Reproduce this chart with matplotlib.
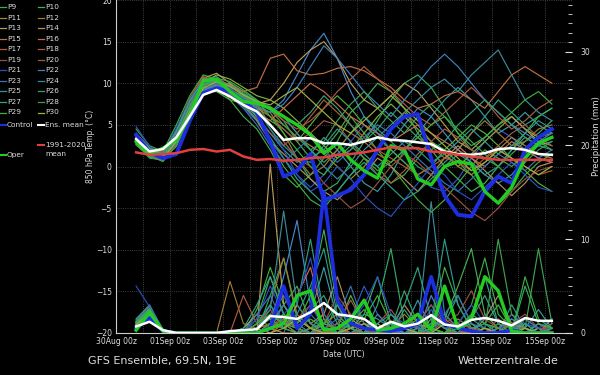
import numpy as np
import pandas as pd
import matplotlib
matplotlib.use("Agg")
import matplotlib.pyplot as plt
from matplotlib.lines import Line2D
from matplotlib.ticker import MultipleLocator
import matplotlib.dates as mdates

# 12-hourly steps, run starts 30Aug 18z
times = pd.date_range("2024-08-30 18:00", periods=32, freq="12h")
tick_days = pd.date_range("2024-08-30", "2024-09-15", freq="2D")
grid_days = pd.date_range("2024-08-30", "2024-09-16", freq="D")
tick_labels = ["30Aug 00z", "01Sep 00z", "03Sep 00z", "05Sep 00z", "07Sep 00z",
               "09Sep 00z", "11Sep 00z", "13Sep 00z", "15Sep 00z"]

# 850 hPa temperature (C)
ens_mean = [3.3, 1.8, 2.1, 3.5, 6.0, 8.6, 9.2, 8.4, 7.4, 6.6, 5.0, 3.2, 3.4, 3.4, 2.8, 2.8,
            2.6, 3.0, 3.5, 3.2, 3.1, 2.9, 2.7, 1.8, 1.5, 1.4, 1.6, 2.1, 2.2, 2.0, 1.5, 1.4]
clim_mean = [1.7, 1.4, 1.5, 1.6, 2.0, 2.1, 1.8, 2.0, 1.2, 0.8, 0.9, 0.7, 0.8, 1.0, 1.1, 1.4,
             1.5, 1.7, 2.0, 2.3, 2.2, 2.2, 1.8, 1.7, 1.4, 1.2, 1.0, 0.8, 0.8, 0.8, 0.8, 0.8]
control = [3.8, 1.7, 1.0, 1.5, 5.5, 8.8, 9.4, 9.0, 7.8, 6.5, 3.0, -1.2, -0.5, 1.5, -4.0, -3.5,
           -2.8, -1.0, 2.0, 4.5, 6.0, 6.3, 1.0, -3.5, -5.8, -6.0, -3.0, -1.2, -2.0, 2.0, 3.5, 4.5]
oper = [3.0, 1.4, 2.2, 3.2, 6.0, 10.3, 10.5, 9.0, 7.8, 7.6, 7.0, 6.0, 5.0, 3.8, 1.6, 2.8,
        0.8, -0.5, -1.4, 2.5, 2.0, -1.5, -2.2, 0.0, 0.6, 0.3, -3.0, -4.4, -2.5, 1.0, 2.8, 3.5]

members = [
    [3.5, 1.8, 1.0, 3.0, 6.5, 9.0, 9.5, 8.5, 7.0, 5.5, 3.0, 1.0, -1.0, -2.5, -1.0, 1.5, 3.0, 5.0, 4.0, 2.0, 0.5, -1.0, -2.5, -3.0, -1.5, 1.0, 3.0, 4.5, 3.5, 2.0, 1.0, 0.5],
    [3.0, 1.5, 1.2, 3.5, 7.0, 9.8, 10.2, 9.0, 8.0, 7.0, 6.5, 8.0, 11.0, 14.0, 16.0, 13.0, 9.0, 6.0, 4.0, 3.0, 5.0, 7.0, 6.0, 4.0, 2.0, 0.5, -1.0, -2.0, -1.0, 1.0, 2.5, 3.0],
    [4.0, 2.2, 1.5, 4.5, 8.0, 10.5, 10.8, 9.5, 7.5, 6.0, 4.0, 2.0, 0.5, 1.5, 3.5, 2.0, 0.0, -2.0, -3.0, -1.0, 2.0, 4.0, 6.0, 8.0, 9.5, 8.0, 6.0, 4.0, 5.0, 6.5, 5.0, 4.0],
    [2.8, 1.0, 0.8, 2.5, 6.0, 8.8, 9.8, 10.0, 9.0, 8.0, 7.0, 6.0, 4.0, 2.0, 0.5, 2.0, 4.0, 6.0, 4.5, 3.0, 1.5, 0.0, -1.0, 0.5, 2.0, 4.0, 6.0, 8.0, 6.5, 5.0, 6.0, 7.0],
    [3.2, 1.6, 1.4, 3.0, 6.8, 9.5, 10.0, 9.2, 8.5, 7.5, 5.0, 3.0, 1.0, -1.5, -3.0, -2.0, 0.5, 3.0, 5.5, 8.0, 10.0, 11.0, 9.5, 7.0, 4.0, 2.0, 1.0, 0.0, 1.5, 3.0, 4.0, 5.5],
    [3.6, 2.0, 1.0, 4.0, 7.5, 10.2, 10.0, 8.0, 6.0, 4.5, 2.0, -1.0, -2.5, -1.0, 1.0, 3.0, 6.0, 4.0, 2.0, 0.0, -2.0, -4.0, -5.5, -4.0, -2.0, 0.0, 2.0, 1.0, 0.0, 1.5, 3.0, 2.0],
    [2.6, 1.2, 1.6, 2.8, 6.2, 9.0, 9.0, 8.0, 7.5, 6.5, 5.5, 4.5, 3.0, 5.0, 7.0, 8.5, 7.0, 5.0, 3.5, 2.0, 0.5, -1.0, 0.0, 2.0, 3.5, 5.0, 4.0, 2.5, 1.0, -0.5, -2.0, -3.0],
    [3.4, 1.4, 1.2, 3.8, 7.2, 10.0, 11.0, 10.5, 9.5, 8.5, 8.0, 7.0, 5.5, 4.0, 2.5, 1.0, 2.0, 4.0, 6.0, 7.5, 6.0, 4.5, 3.0, 1.5, 0.0, 1.5, 3.0, 4.5, 6.0, 4.5, 3.5, 4.0],
    [4.5, 2.5, 1.8, 5.0, 8.5, 11.0, 10.5, 9.0, 8.0, 6.0, 3.0, 0.0, -2.0, -4.0, -5.0, -3.0, -1.0, 1.0, 0.0, -2.0, -1.0, 1.0, 3.0, 2.0, 0.5, -1.0, -3.0, -4.5, -3.0, -1.0, 0.5, 1.5],
    [3.0, 1.3, 0.6, 2.6, 6.5, 9.6, 10.4, 9.8, 8.8, 7.8, 7.0, 5.5, 3.0, 1.0, 2.0, 4.0, 6.5, 8.0, 10.0, 9.0, 7.0, 4.0, 2.0, 0.0, -1.5, -3.0, -2.0, 0.0, 2.0, 4.0, 6.0, 7.0],
    [3.3, 1.7, 1.3, 3.4, 7.0, 9.4, 9.6, 8.8, 7.8, 7.0, 6.0, 5.0, 3.5, 2.5, 1.5, 0.0, -1.5, 0.0, 2.0, 4.5, 6.5, 5.0, 3.0, 1.5, 0.0, -1.0, 0.5, 2.0, 3.5, 2.5, 1.5, 1.0],
    [2.9, 1.1, 0.9, 2.4, 5.8, 8.6, 9.2, 8.6, 8.0, 7.2, 6.5, 4.0, 1.0, -1.0, 0.0, 2.0, 4.0, 3.0, 1.5, 0.5, 2.0, 3.5, 2.5, 1.0, 2.0, 4.0, 5.5, 4.0, 2.5, 3.0, 4.5, 5.0],
    [3.7, 2.1, 1.6, 4.2, 7.8, 10.6, 11.2, 10.0, 8.5, 7.5, 8.0, 10.0, 12.5, 14.0, 15.0, 13.0, 10.0, 8.0, 7.0, 8.5, 10.0, 9.0, 7.0, 5.0, 3.0, 2.0, 3.5, 5.0, 6.0, 4.5, 3.0, 2.5],
    [3.1, 1.5, 1.1, 3.2, 6.6, 9.2, 9.8, 9.0, 7.5, 5.5, 3.0, 1.5, 0.0, -1.5, -3.0, -4.0, -2.5, -1.0, 1.0, 0.0, -1.5, -3.0, -1.0, 1.0, 2.5, 1.0, -0.5, -2.0, -3.5, -2.0, 0.0, 0.5],
    [3.5, 1.9, 1.5, 3.6, 7.4, 10.0, 10.5, 9.8, 9.0, 9.5, 13.0, 13.5, 11.5, 11.0, 11.2, 11.8, 12.0, 11.5, 10.5, 9.5, 8.0, 7.0, 7.5, 8.5, 9.0, 8.0, 7.0, 9.0, 11.0, 12.0, 11.0, 10.0],
    [2.7, 1.3, 1.0, 2.9, 6.4, 9.0, 9.4, 8.4, 7.4, 6.4, 5.5, 7.0, 8.5, 10.0, 9.0, 7.5, 6.0, 5.0, 4.0, 3.0, 4.0, 5.0, 4.0, 3.0, 2.0, 1.0, 0.0, 1.5, 3.0, 2.0, 1.0, 0.5],
    [3.9, 2.3, 1.7, 4.4, 8.2, 10.8, 10.2, 8.8, 7.2, 5.8, 4.0, 2.5, 4.0, 6.0, 8.0, 6.5, 5.0, 3.5, 2.0, 1.0, 0.0, -1.0, 0.0, 1.0, 0.5, -0.5, 1.0, 2.0, 1.0, 0.0, -1.0, -0.5],
    [3.0, 1.6, 1.3, 3.3, 6.9, 9.7, 10.1, 9.6, 8.6, 7.6, 6.8, 5.5, 4.5, 5.5, 7.0, 9.0, 10.5, 12.0, 10.5, 9.0, 7.5, 6.0, 5.0, 6.5, 8.0, 9.5, 8.0, 6.0, 4.5, 5.5, 7.0, 8.0],
    [3.4, 1.8, 1.4, 3.7, 7.3, 9.9, 10.3, 9.4, 8.2, 7.0, 5.0, 3.0, 1.0, 0.0, -2.0, -3.5, -5.0, -4.0, -2.0, 0.0, 1.5, 0.5, -1.0, -2.5, -4.0, -5.5, -6.5, -5.0, -3.0, -1.5, -0.5, 0.0],
    [2.6, 1.2, 0.9, 2.7, 6.3, 9.1, 9.7, 9.2, 8.4, 7.4, 6.0, 4.5, 3.0, 4.0, 5.5, 5.0, 3.0, 1.0, -1.0, -2.0, -0.5, 1.5, 3.0, 4.5, 3.5, 2.0, 1.0, 2.5, 4.0, 5.0, 3.5, 2.5],
    [4.8, 2.4, 1.5, 4.6, 8.0, 10.4, 10.6, 9.4, 8.0, 6.8, 4.5, 2.0, -1.0, -3.0, -2.0, 0.0, -1.5, -3.5, -5.0, -6.0, -4.0, -2.0, 0.0, -1.0, -3.0, -4.0, -2.5, -1.0, 0.5, -1.0, -2.5, -3.0],
    [3.2, 1.6, 1.2, 3.1, 6.7, 9.3, 9.9, 9.3, 8.3, 7.3, 6.5, 7.5, 9.5, 12.0, 14.5, 13.0, 11.0, 9.0, 7.5, 6.0, 8.0, 10.0, 12.0, 13.5, 12.0, 10.0, 8.0, 6.5, 5.0, 4.0, 3.0, 4.0],
    [3.6, 2.0, 1.4, 3.9, 7.6, 10.1, 10.0, 8.6, 7.0, 5.0, 2.5, 0.5, 2.0, 3.5, 2.0, 0.5, 2.0, 3.5, 5.0, 4.0, 2.5, 1.0, -0.5, -2.0, -3.0, -1.5, 0.0, 1.5, 0.5, -0.5, 1.0, 2.0],
    [3.1, 1.4, 1.1, 3.0, 6.6, 9.2, 9.6, 9.0, 8.2, 7.6, 7.2, 6.0, 4.0, 2.0, 0.0, -1.5, 0.0, 2.0, 3.5, 5.0, 6.5, 8.0, 9.5, 10.5, 9.0, 11.0, 12.5, 14.0, 11.0, 8.0, 6.5, 5.5],
    [2.8, 1.2, 1.3, 2.8, 6.4, 9.0, 9.6, 9.1, 8.3, 7.0, 4.5, 2.5, 1.0, 0.5, 2.5, 4.5, 3.0, 1.5, 0.0, 1.5, 3.0, 2.0, 0.5, 1.5, 3.0, 4.5, 3.0, 1.5, 2.5, 4.0, 5.5, 4.5],
    [3.3, 1.7, 1.6, 3.5, 7.1, 9.7, 10.3, 9.7, 8.7, 7.9, 7.0, 6.0, 5.0, 6.5, 8.5, 7.0, 5.0, 3.0, 4.5, 6.5, 5.0, 3.5, 2.0, 3.0, 5.0, 6.5, 8.0, 6.5, 5.0, 3.5, 2.5, 3.5],
    [3.9, 2.2, 1.5, 4.3, 7.9, 10.3, 10.1, 8.9, 7.3, 5.6, 3.5, 1.0, -1.5, -3.0, -4.5, -3.0, -1.0, 0.5, -1.0, -2.5, -4.0, -3.0, -1.5, 0.0, 1.5, 0.5, -1.0, 0.0, 2.0, 3.5, 2.5, 2.0],
    [2.7, 1.1, 0.7, 2.5, 6.1, 8.9, 9.5, 9.1, 8.5, 7.7, 6.8, 5.0, 3.5, 2.0, 3.0, 5.5, 7.5, 9.0, 7.0, 5.5, 4.0, 6.0, 7.5, 6.0, 4.5, 3.0, 1.5, 0.0, -1.5, 0.5, 2.0, 3.0],
    [3.4, 1.8, 1.2, 3.6, 7.2, 9.8, 10.6, 10.2, 9.2, 8.0, 6.0, 4.0, 2.0, 0.0, -1.0, 1.0, 2.5, 1.0, -0.5, 0.5, 2.0, 3.5, 5.0, 6.0, 4.0, 2.5, 3.5, 5.0, 6.5, 8.0, 9.0, 7.5],
    [3.0, 1.5, 1.0, 3.0, 6.6, 9.4, 10.2, 9.6, 8.6, 7.8, 7.4, 8.5, 9.5, 8.0, 6.5, 5.0, 4.0, 5.5, 7.0, 8.5, 7.0, 5.5, 4.0, 2.5, 1.0, -0.5, 0.5, 2.0, 1.0, 0.0, -1.0, 0.0],
]

# precipitation (mm)
ens_mean_rain = [0.7, 1.2, 0.3, 0, 0, 0, 0, 0.2, 0.3, 0.4, 1.8, 1.7, 1.5, 2.2, 3.2, 2.0,
                 1.8, 1.5, 0.5, 1.2, 0.7, 1.0, 1.9, 0.9, 0.7, 1.4, 1.6, 1.3, 0.8, 1.6, 1.3, 1.3]
control_rain = [0.5, 1.6, 0.2, 0, 0, 0, 0, 0, 0, 0, 0.5, 5.0, 0.5, 2.0, 15.0, 3.5,
                1.0, 0.5, 0.3, 0.2, 0.5, 1.0, 6.0, 1.0, 0.5, 0.2, 0, 0, 0.3, 0, 0, 0]
oper_rain = [0.3, 2.2, 0.2, 0, 0, 0, 0, 0, 0, 0, 0.5, 1.0, 4.0, 4.5, 0.3, 0.5,
             1.5, 3.5, 0.3, 0.5, 1.0, 2.0, 0.3, 5.0, 0.5, 1.5, 6.0, 4.5, 0.2, 0, 0, 0]
members_rain = [
    [1.0, 2.0, 0.2, 0, 0, 0, 0, 0, 0, 0.5, 2.0, 4.0, 1.0, 3.0, 0.5, 0, 1.5, 5.0, 2.0, 0.5, 0, 1.0, 3.0, 0.5, 0, 0, 2.0, 0.5, 0, 1.0, 0.5, 0],
    [0.8, 2.5, 0.3, 0, 0, 0, 0, 0, 0, 0, 1.0, 6.0, 12.0, 3.0, 1.0, 0.5, 0, 0, 2.0, 0.5, 0, 0, 4.0, 1.0, 0, 0.5, 0, 0, 1.5, 0.5, 0, 0],
    [1.5, 3.0, 0.2, 0, 0, 0, 0, 0, 0, 1.0, 3.0, 1.0, 0, 2.0, 7.0, 1.5, 0.5, 0, 0, 1.0, 0.5, 3.5, 0.5, 0, 0, 2.0, 6.0, 1.0, 0, 0.5, 2.5, 0.5],
    [0.6, 1.8, 0.1, 0, 0, 0, 0, 0, 0.5, 2.0, 0.5, 0, 3.0, 10.0, 2.0, 0, 0, 1.0, 0.5, 0, 2.5, 0.5, 0, 1.0, 4.0, 1.0, 0, 0, 3.0, 0.5, 0, 1.0],
    [1.2, 2.6, 0.3, 0, 0, 0, 0, 0, 0, 0, 4.0, 8.0, 1.5, 0.5, 2.0, 0.5, 0, 0, 3.0, 9.0, 1.0, 0, 0.5, 0, 0, 1.5, 0.5, 0, 0, 5.0, 1.0, 0],
    [0.9, 2.2, 0.2, 0, 0, 0, 0, 0, 0, 1.5, 6.0, 2.0, 0.5, 0, 0, 3.0, 1.0, 0, 0, 2.0, 0.5, 0, 1.0, 7.0, 3.0, 0.5, 0, 1.0, 0, 0, 0.5, 0],
    [1.1, 2.4, 0.3, 0, 0, 0, 0, 0, 0, 0, 0.5, 1.5, 0.5, 0, 1.0, 0.5, 4.0, 1.0, 0, 0, 0.5, 2.0, 0.5, 0, 0, 0.5, 1.0, 3.0, 0.5, 0, 0, 0.5],
    [0.7, 1.9, 0.2, 0, 0, 0, 0, 0, 0, 0.5, 1.0, 0.5, 0, 0.5, 0, 0, 0.5, 1.5, 0, 0, 0.5, 0, 1.5, 0.5, 0, 0, 0.5, 0, 0, 1.5, 0.5, 0],
    [1.4, 2.9, 0.4, 0, 0, 0, 0, 0, 0, 2.5, 7.0, 3.0, 1.0, 4.0, 11.0, 3.0, 0.5, 1.5, 4.0, 1.0, 0.5, 0, 2.0, 0.5, 1.0, 3.0, 8.0, 2.0, 0.5, 0, 1.0, 0.5],
    [1.0, 2.3, 0.2, 0, 0, 0, 0, 0, 0, 0, 1.0, 3.0, 5.0, 1.0, 0, 0, 0.5, 2.0, 6.0, 1.0, 0, 0, 0.5, 1.5, 5.0, 9.0, 2.0, 0.5, 0, 0, 0.5, 0],
    [0.8, 2.0, 0.3, 0, 0, 0, 0, 0, 0, 0.5, 2.0, 1.0, 0, 0, 1.0, 2.0, 0.5, 0, 0.5, 0, 1.0, 0.5, 0, 0, 1.5, 0.5, 0, 0.5, 0, 1.0, 0, 0],
    [0.7, 1.8, 0.2, 0, 0, 0, 0, 5.5, 1.0, 0.5, 3.0, 8.0, 2.0, 0.5, 0, 0, 1.0, 0, 0, 0.5, 2.0, 0.5, 0, 0, 0, 0.5, 0, 0, 1.0, 0, 0, 0.5],
    [0.9, 2.1, 0.2, 0, 0, 0, 0, 0, 0, 0, 18.0, 3.0, 0.5, 0, 0, 0.5, 0, 0, 1.0, 0, 0, 0, 0.5, 0, 0, 0, 0.5, 0, 0, 0, 0.5, 0],
    [1.1, 2.5, 0.3, 0, 0, 0, 0, 0, 0.5, 2.0, 1.5, 0.5, 3.0, 1.0, 2.0, 6.0, 1.5, 0.5, 0, 0.5, 3.0, 1.0, 0.5, 2.0, 0.5, 0, 1.5, 4.0, 1.0, 0.5, 0, 1.5],
    [0.6, 1.6, 0.1, 0, 0, 0, 0, 0, 0, 0, 0.5, 0, 0, 0.5, 0, 0, 0, 0.5, 0, 0, 0, 0.5, 0, 0, 0.5, 0, 0, 0, 0, 0.5, 0, 0],
    [0.8, 1.9, 0.2, 0, 0, 0, 0, 0, 0, 0.5, 0, 1.0, 4.0, 7.0, 1.5, 0, 0.5, 0, 0, 1.0, 0, 0.5, 0, 0, 1.0, 0, 0, 0.5, 2.0, 0.5, 0, 0],
    [1.2, 2.7, 0.3, 0, 0, 0, 0, 0, 4.0, 1.0, 0.5, 2.0, 0.5, 0, 0.5, 1.0, 0, 0.5, 0, 0, 0.5, 0, 0, 1.5, 0.5, 0, 0.5, 0, 0, 0, 1.0, 0],
    [0.9, 2.0, 0.2, 0, 0, 0, 0, 0, 0, 0, 0.5, 1.5, 0.5, 0, 0, 0.5, 0, 0, 0.5, 0, 0.5, 1.0, 0, 0, 0, 0.5, 0, 0.5, 1.0, 0, 0, 0.5],
    [1.0, 2.2, 0.3, 0, 0, 0, 0, 0, 0, 1.0, 2.5, 0.5, 1.5, 3.0, 1.0, 4.0, 2.0, 0.5, 1.0, 2.5, 0.5, 1.0, 3.0, 1.0, 2.0, 4.5, 1.5, 0.5, 1.0, 2.0, 0.5, 0.5],
    [0.7, 1.7, 0.2, 0, 0, 0, 0, 0, 0, 0.5, 1.0, 0.5, 2.0, 0.5, 0, 1.0, 3.5, 1.0, 0, 0, 0.5, 2.0, 0.5, 0, 1.0, 0.5, 0, 1.5, 0.5, 0, 0, 1.0],
    [5.0, 2.8, 0.4, 0, 0, 0, 0, 0, 0, 1.5, 5.0, 2.0, 3.5, 8.0, 2.0, 0.5, 1.0, 3.0, 6.0, 2.0, 1.0, 0.5, 2.5, 0.5, 1.0, 3.0, 1.0, 0, 2.0, 1.0, 0.5, 1.5],
    [0.8, 2.1, 0.2, 0, 0, 0, 0, 0, 0, 0, 0.5, 3.0, 1.0, 0, 0.5, 0, 0, 1.0, 0.5, 0, 0, 0.5, 0, 0, 0.5, 0, 0, 0.5, 1.5, 0.5, 0, 0],
    [1.3, 2.9, 0.3, 0, 0, 0, 0, 0, 0, 2.0, 4.0, 1.0, 0.5, 2.0, 0.5, 1.5, 5.0, 1.0, 0.5, 0, 1.0, 0.5, 0, 2.0, 4.0, 1.0, 0.5, 0, 0.5, 1.5, 0.5, 0],
    [0.9, 2.2, 0.2, 0, 0, 0, 0, 0, 0, 0.5, 2.5, 13.0, 3.0, 1.0, 0.5, 0, 0.5, 0, 0, 1.0, 0, 0.5, 14.0, 2.0, 0.5, 0, 0, 0, 0.5, 0, 0, 0.5],
    [1.0, 2.4, 0.2, 0, 0, 0, 0, 0, 0, 1.0, 3.0, 0.5, 2.0, 5.0, 9.0, 2.0, 0.5, 0, 1.0, 2.0, 0.5, 0, 1.0, 10.0, 3.0, 0.5, 1.0, 0, 0.5, 1.0, 0, 0.5],
    [0.8, 2.0, 0.2, 0, 0, 0, 0, 0, 0, 0.5, 1.5, 0.5, 0, 0.5, 1.0, 3.0, 0.5, 0, 0, 0.5, 4.5, 1.0, 0, 0, 0.5, 1.0, 0, 0, 0.5, 0.5, 0, 0],
    [1.2, 2.6, 0.3, 0, 0, 0, 0, 0, 0.5, 3.0, 6.0, 2.0, 1.0, 2.5, 4.0, 1.0, 0.5, 2.0, 1.5, 0.5, 3.0, 7.0, 1.5, 0.5, 0, 1.5, 4.0, 1.0, 0.5, 0, 1.0, 0.5],
    [0.7, 1.8, 0.2, 0, 0, 0, 0, 0, 0, 0, 1.0, 2.0, 0.5, 0, 1.5, 0, 0.5, 0, 0, 1.0, 0.5, 0, 0.5, 0, 1.0, 0, 0.5, 10.0, 2.0, 0.5, 9.0, 1.0],
    [1.1, 2.5, 0.3, 0, 0, 0, 0, 0, 0, 1.0, 2.0, 1.0, 0.5, 1.5, 0.5, 0, 1.0, 2.5, 0.5, 0, 0.5, 1.5, 0.5, 0, 0.5, 2.0, 1.0, 0.5, 0, 6.0, 1.5, 0.5],
    [0.9, 2.1, 0.2, 0, 0, 0, 0, 0, 0, 0.5, 0, 0.5, 1.5, 0.5, 0, 0, 0.5, 1.0, 0, 0, 0.5, 0, 0, 1.0, 0.5, 0, 0.5, 0, 0, 0.5, 0, 0],
]

member_labels = ["P%d" % i for i in range(1, 31)]
member_colors = ["#3355cc", "#4488cc", "#3a9aa0", "#2aa080", "#33aa66", "#44aa44", "#50b040", "#80b040",
                 "#3cb043", "#44b050", "#9a8a3c", "#a07838", "#b89a5a", "#b09060", "#c07040", "#c86a50",
                 "#b05a3a", "#b05a40", "#9a5040", "#a05a48", "#2a50c0", "#4080c0", "#3a70b0", "#3a8a9a",
                 "#2a9a8a", "#3aa070", "#30a080", "#40a050", "#3ab040", "#a0b040"]
c_control = "#1c2ee0"
c_oper = "#22cc22"
c_mean = "white"
c_clim = "#e04040"
txt = "#dddddd"

W, H = 600, 375
fig = plt.figure(figsize=(6, 3.75), dpi=100, facecolor="black")
ax = fig.add_axes([116 / W, 42 / H, 456 / W, 333 / H])
ax.set_facecolor("black")
ax2 = ax.twinx()

# precipitation on the right axis
for vals, col in zip(members_rain, member_colors):
    ax2.plot(times, vals, color=col, lw=0.85)
ax2.plot(times, control_rain, color=c_control, lw=2.6)
ax2.plot(times, oper_rain, color=c_oper, lw=2.4)
ax2.plot(times, ens_mean_rain, color=c_mean, lw=1.8)

# temperature on the left axis
for vals, col in zip(members, member_colors):
    ax.plot(times, vals, color=col, lw=0.85)
ax.plot(times, control, color=c_control, lw=2.8)
ax.plot(times, oper, color=c_oper, lw=2.4)
ax.plot(times, ens_mean, color=c_mean, lw=1.8)
ax.plot(times, clim_mean, color=c_clim, lw=1.8)

ax.set_xlim(pd.Timestamp("2024-08-30"), pd.Timestamp("2024-09-15 12:45"))
ax.set_ylim(-20, 20)
ax2.set_ylim(0, 35.5)

ax.set_xticks(tick_days)
ax.set_xticklabels(tick_labels)
ax.set_xticks(grid_days, minor=True)
ax.yaxis.set_major_locator(MultipleLocator(5))
ax.grid(which="both", axis="x", color="#555555", ls=":", lw=0.6)
ax.grid(which="major", axis="y", color="#555555", ls=":", lw=0.6)
ax.tick_params(axis="both", which="both", length=0, colors=txt, labelsize=5.5, pad=3)

ax2.yaxis.set_major_locator(MultipleLocator(10))
ax2.yaxis.set_minor_locator(MultipleLocator(1))
ax2.tick_params(axis="y", which="major", direction="in", length=5, colors=txt, labelsize=5.5, pad=6)
ax2.tick_params(axis="y", which="minor", direction="in", length=3, colors=txt)

for sp in ["top", "right"]:
    ax.spines[sp].set_visible(False)
    ax2.spines[sp].set_visible(False)
ax2.spines["left"].set_visible(False)
ax2.spines["bottom"].set_visible(False)
ax.spines["left"].set_color("#cccccc")
ax.spines["bottom"].set_color("#cccccc")

ax.set_ylabel("850 hPa Temp. (\u00b0C)", color=txt, fontsize=5.5)
ax.yaxis.set_label_coords(-0.046, 0.56)
ax2.set_ylabel("Precipitation (mm)", color=txt, fontsize=6.2)
ax2.yaxis.set_label_coords(1.044, 0.59)
ax.set_xlabel("Date (UTC)", color=txt, fontsize=5.5, labelpad=3)

fig.text(88 / W, 1 - 361 / H, "GFS Ensemble, 69.5N, 19E", color=txt, fontsize=8, va="center")
fig.text(458 / W, 1 - 361 / H, "Wetterzentrale.de", color=txt, fontsize=8, va="center")


# legend drawn by hand (its top is cut off like in the original)
def leg_item(x, y, color, label, lw=0.9):
    yf = 1 - y / H
    fig.add_artist(Line2D([x / W, (x + 6) / W], [yf, yf], color=color, lw=lw,
                          transform=fig.transFigure))
    fig.text((x + 7) / W, yf, label, color=txt, fontsize=5.3, va="center", ha="left")


for i, (lab, col) in enumerate(zip(member_labels, member_colors)):
    row, colno = divmod(i, 2)
    leg_item(0 if colno == 0 else 38, 7 + (row - 4) * 10.55, col, lab)
leg_item(0, 124.5, c_control, "Control", lw=1.5)
leg_item(38, 124.5, c_mean, "Ens. mean", lw=1.5)
leg_item(38, 145, c_clim, "1991-2020", lw=1.5)
fig.text(45 / W, 1 - 154 / H, "mean", color=txt, fontsize=5.3, va="center", ha="left")
leg_item(0, 155, c_oper, "Oper", lw=1.5)

fig.savefig("out.png", dpi=100, facecolor="black")
